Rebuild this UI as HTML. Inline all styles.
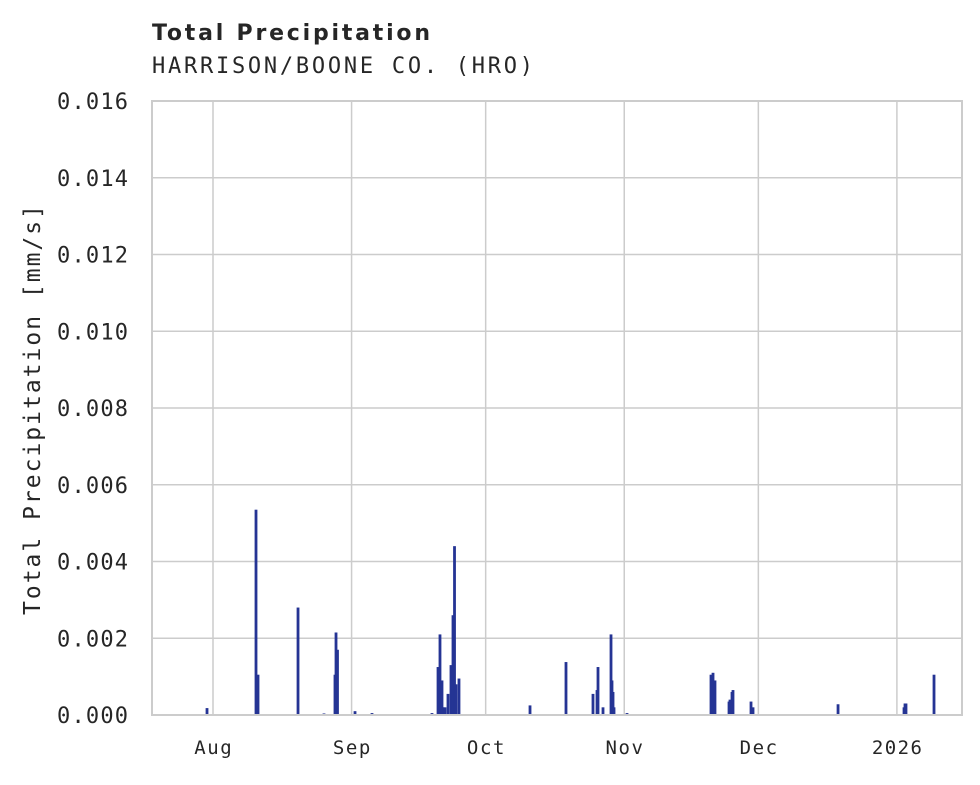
<!DOCTYPE html>
<html><head><meta charset="utf-8"><style>
body{margin:0;background:#fff;width:980px;height:780px;overflow:hidden}
svg text{font-family:"DejaVu Sans Mono","Liberation Mono",monospace;fill:#262626}
</style></head><body>
<svg width="980" height="780">
<text x="152" y="40" textLength="278" lengthAdjust="spacing" style="font-family:'DejaVu Sans',sans-serif;font-weight:bold;font-size:22px">Total Precipitation</text>
<text x="152" y="73" textLength="381" lengthAdjust="spacing" style="font-size:22px">HARRISON/BOONE CO. (HRO)</text>
<g id="grid"></g><g id="bars"></g><g id="axes"></g>
<rect x="152" y="101" width="810" height="614" fill="none" stroke="#cccccc" stroke-width="2"/>
<text transform="translate(40,410) rotate(-90)" text-anchor="middle" textLength="410" lengthAdjust="spacing" style="font-size:23px">Total Precipitation [mm/s]</text>
</svg>
<script>
const days=[-1.34,9.62,10.07,19.02,24.83,27.29,27.52,27.85,31.77,35.57,48.99,50.34,50.78,51.23,51.45,51.9,52.57,53.24,53.69,54.03,54.36,55.03,70.92,78.97,85.01,85.91,86.13,87.25,89.04,89.26,89.49,89.71,92.62,111.41,111.86,112.3,115.44,115.66,116.11,116.33,120.36,120.81,139.83,154.59,154.81,155.03,161.3];
const values=[0.00018,0.00535,0.00105,0.0028,0.00004,0.00105,0.00215,0.0017,0.0001,0.00005,0.00005,0.00125,0.0021,0.0009,0.0002,0.0002,0.00055,0.0013,0.0026,0.0044,0.0008,0.00095,0.00025,0.00138,0.00055,0.00065,0.00125,0.0002,0.0021,0.0009,0.0006,0.0002,0.00005,0.00105,0.0011,0.0009,0.00035,0.0004,0.0006,0.00065,0.00035,0.0002,0.00028,0.0002,0.0003,0.0003,0.00105];
const yTicks=[0,0.002,0.004,0.006,0.008,0.010,0.012,0.014,0.016];
const xTickDays=[0,31,61,92,122,153];
const xTickLabels=["Aug","Sep","Oct","Nov","Dec","2026"];
const NS="http://www.w3.org/2000/svg";
const X=d=>213+d*4.47, Y=v=>715-v/0.016*614;
function mk(t,a,p){const e=document.createElementNS(NS,t);for(const k in a)e.setAttribute(k,a[k]);p.appendChild(e);return e;}
const g=document.getElementById('grid'),b=document.getElementById('bars'),ax=document.getElementById('axes');
yTicks.forEach(v=>{
 const l=mk('line',{x1:152,x2:962,y1:Y(v),y2:Y(v),stroke:'#cccccc','stroke-width':1.5},g);
 
 
 const t=mk('text',{x:128,y:Y(v)+8,'text-anchor':'end','font-size':'22px',textLength:71,lengthAdjust:'spacing'},ax);
 t.textContent=v.toFixed(3);
 
 
});
xTickDays.forEach((d,i)=>{
 const l=mk('line',{x1:X(d),x2:X(d),y1:101,y2:715,stroke:'#cccccc','stroke-width':1.5},g);
 
 
 const t=mk('text',{x:X(d),y:754,'text-anchor':'middle','font-size':'19px',textLength:xTickLabels[i].length*12.5,lengthAdjust:'spacing'},ax);
 t.textContent=xTickLabels[i];
 
 
});
days.forEach((d,i)=>{
 const r=mk('rect',{x:X(d)-1.4,y:Y(values[i]),width:2.8,height:715-Y(values[i]),fill:'#253494'},b);
 
 
});
</script>
</body></html>
